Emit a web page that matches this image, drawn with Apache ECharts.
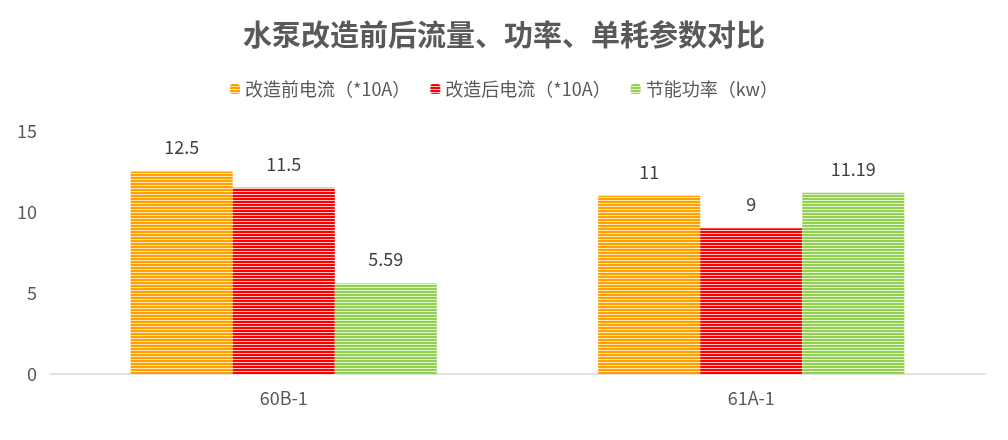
<!DOCTYPE html>
<html>
<head>
<meta charset="utf-8">
<script src="https://cdn.jsdelivr.net/npm/echarts@6/dist/echarts.min.js"></script>
<style>
html,body{margin:0;padding:0;background:#fff;}
#main{width:1008px;height:440px;}
</style>
</head>
<body>
<div id="main"></div>
<script>
// 数据
var categories = ['60B-1', '61A-1'];
var seriesNames = ['改造前电流（*10A）', '改造后电流（*10A）', '节能功率（kw）'];
var beforeCurrent = [12.5, 11];
var afterCurrent = [11.5, 9];
var savedPower = [5.59, 11.19];
var yTicks = [0, 5, 10, 15];

var FONT = '"Microsoft YaHei","Noto Sans CJK SC","Noto Sans",sans-serif';

// 横条纹填充
function stripe(color, light){
	var c = document.createElement('canvas');
	c.width = 4; c.height = 3;
	var ctx = c.getContext('2d');
	ctx.fillStyle = light;
	ctx.fillRect(0, 0, 4, 3);
	ctx.fillStyle = color;
	ctx.fillRect(0, 0, 4, 2);
	return {image: c, repeat: 'repeat'};
}

var fills = [
	stripe('#FFA000', '#FFE6B0'),
	stripe('#FF0000', '#FFC8C8'),
	stripe('#92D050', '#E2F3D2')
];
var dataList = [beforeCurrent, afterCurrent, savedPower];

var series = [];
for (var i = 0; i < dataList.length; i++) {
	series.push({
		name: seriesNames[i],
		type: 'bar',
		data: dataList[i],
		barGap: '0%',
		barCategoryGap: '34.5%',
		itemStyle: {color: fills[i]},
		label: {
			show: true,
			position: 'top',
			distance: 15,
			color: '#404040',
			fontSize: 18,
			fontFamily: FONT
		}
	});
}

var chart = echarts.init(document.getElementById('main'));
chart.setOption({
	backgroundColor: '#fff',
	animation: false,
	title: {
		text: '水泵改造前后流量、功率、单耗参数对比',
		left: 'center',
		top: 15,
		textStyle: {fontSize: 29, fontWeight: 'bold', color: '#595959', fontFamily: FONT}
	},
	legend: {
		top: 75,
		left: 'center',
		itemWidth: 10,
		itemHeight: 10,
		itemGap: 20,
		textStyle: {fontSize: 18, color: '#595959', fontFamily: FONT},
		data: seriesNames
	},
	grid: {left: 50, right: 23, top: 131, bottom: 66},
	xAxis: {
		type: 'category',
		data: categories,
		axisLine: {lineStyle: {color: '#D9D9D9', width: 1.5}},
		axisTick: {show: false},
		axisLabel: {fontSize: 18, color: '#595959', margin: 15, fontFamily: FONT}
	},
	yAxis: {
		type: 'value',
		min: yTicks[0],
		max: yTicks[yTicks.length - 1],
		interval: 5,
		splitLine: {show: false},
		axisLine: {show: false},
		axisLabel: {fontSize: 18, color: '#595959', margin: 13, fontFamily: FONT}
	},
	series: series
});
</script>
</body>
</html>
